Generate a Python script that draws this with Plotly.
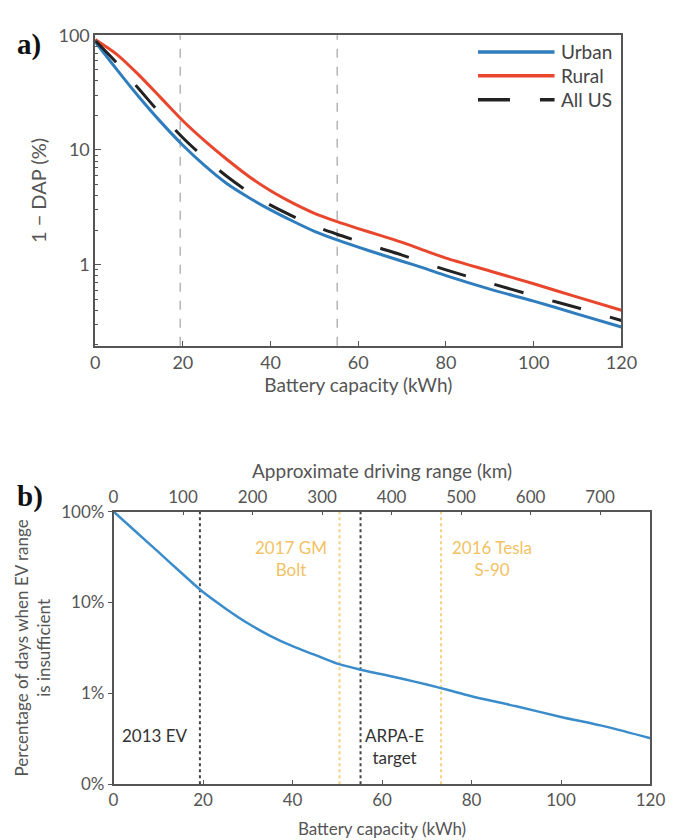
import plotly.graph_objects as go

# ---------------- data ----------------
cap_a = [0, 5, 10, 15, 20, 25, 30, 35, 40, 45, 50, 55, 60, 65, 70, 75, 80, 90, 100, 110, 120]
urban = [88, 50, 29, 17.5, 11, 7.3, 5.1, 3.85, 3.0, 2.4, 1.95, 1.65, 1.42, 1.23, 1.07, 0.93, 0.80, 0.61, 0.48, 0.37, 0.285]
rural = [92, 68, 45, 28.5, 18, 12, 8.3, 5.9, 4.4, 3.45, 2.8, 2.38, 2.06, 1.8, 1.56, 1.33, 1.14, 0.88, 0.68, 0.52, 0.40]
all_us = [90, 57, 34, 20.5, 12.8, 8.5, 5.9, 4.3, 3.3, 2.65, 2.17, 1.85, 1.6, 1.39, 1.21, 1.04, 0.9, 0.69, 0.535, 0.42, 0.325]
ref_lines_a = [19.4, 55.2]

cap_b = [0, 5, 10, 15, 20, 25, 30, 35, 40, 45, 50, 55, 60, 65, 70, 75, 80, 90, 100, 110, 120]
pct_b = [100, 60, 36, 21.5, 13, 8.6, 5.9, 4.3, 3.3, 2.65, 2.12, 1.83, 1.62, 1.43, 1.25, 1.08, 0.93, 0.72, 0.55, 0.43, 0.32]
black_markers = [19.3, 55.2]
yellow_markers = [50.5, 73.2]
km_per_kwh = 6.437
km_ticks = [0, 100, 200, 300, 400, 500, 600, 700]

legend_names = ["Urban", "Rural", "All US"]

FONT = "Lato"
AX = "#555555"
TXT = "#555555"
BLUE = "#2f7dbd"
RED = "#e8472d"
DARK = "#222222"
DASH = "30px,30px"

fig = go.Figure()

# panel a
fig.add_trace(go.Scatter(x=cap_a, y=urban, name=legend_names[0], mode="lines", line=dict(color=BLUE, width=3, shape="spline", smoothing=0.8), xaxis="x", yaxis="y"))
fig.add_trace(go.Scatter(x=cap_a, y=rural, name=legend_names[1], mode="lines", line=dict(color=RED, width=3, shape="spline", smoothing=0.8), xaxis="x", yaxis="y"))
fig.add_trace(go.Scatter(x=cap_a, y=all_us, name=legend_names[2], mode="lines", line=dict(color=DARK, width=3, dash=DASH, shape="spline", smoothing=0.8), xaxis="x", yaxis="y"))

# panel b
fig.add_trace(go.Scatter(x=cap_b, y=pct_b, mode="lines", line=dict(color="#3a8ccb", width=2.5, shape="spline", smoothing=0.8), xaxis="x2", yaxis="y2"))
# invisible trace to activate top axis
fig.add_trace(go.Scatter(x=[0, 120 * km_per_kwh], y=[None, None], mode="lines", hoverinfo="skip", xaxis="x3", yaxis="y2"))

shapes = []
for v in ref_lines_a:
    shapes.append(dict(type="line", xref="x", yref="y domain", x0=v, x1=v, y0=0, y1=1, line=dict(color="#b5b5b5", width=1.5, dash="dash"), layer="below"))
for v in black_markers:
    shapes.append(dict(type="line", xref="x2", yref="y2 domain", x0=v, x1=v, y0=0, y1=1, line=dict(color="#444444", width=2, dash="dot"), layer="below"))
for v in yellow_markers:
    shapes.append(dict(type="line", xref="x2", yref="y2 domain", x0=v, x1=v, y0=0, y1=1, line=dict(color="#f5d283", width=2, dash="dot"), layer="below"))

# manual legend (long line samples as in the original)
leg_x0, leg_x1 = 488 / 682, 567 / 682
leg_y = [1 - 41 / 840, 1 - 65.5 / 840, 1 - 90 / 840]
leg_style = [dict(color=BLUE, width=3.5), dict(color=RED, width=3.5), dict(color=DARK, width=3.5, dash="32px,30px")]
for yy, st in zip(leg_y, leg_style):
    shapes.append(dict(type="line", xref="paper", yref="paper", x0=leg_x0, x1=leg_x1, y0=yy, y1=yy, line=st))

annotations = [
    dict(text="<b>a)</b>", xref="paper", yref="paper", x=0.015, y=1 - 33 / 840, xanchor="left", yanchor="middle", showarrow=False, font=dict(family="Liberation Serif", size=29, color="#111")),
    dict(text="<b>b)</b>", xref="paper", yref="paper", x=0.015, y=1 - 498 / 840, xanchor="left", yanchor="middle", showarrow=False, font=dict(family="Liberation Serif", size=29, color="#111")),
    dict(text="2013 EV", xref="x2", yref="paper", x=17.0, y=1 - 743 / 840, xanchor="right", yanchor="middle", showarrow=False, font=dict(family=FONT, size=17, color="#333")),
    dict(text="ARPA-E<br>target", xref="x2", yref="paper", x=62.8, y=1 - 754 / 840, xanchor="center", yanchor="middle", showarrow=False, font=dict(family=FONT, size=17, color="#333")),
    dict(text="2017 GM<br>Bolt", xref="x2", yref="paper", x=39.6, y=1 - 561 / 840, xanchor="center", yanchor="middle", showarrow=False, font=dict(family=FONT, size=17, color="#f2c264")),
    dict(text="2016 Tesla<br>S-90", xref="x2", yref="paper", x=84.5, y=1 - 561 / 840, xanchor="center", yanchor="middle", showarrow=False, font=dict(family=FONT, size=17, color="#f2c264")),
]
for yy, name in zip(leg_y, legend_names):
    annotations.append(dict(text=name, xref="paper", yref="paper", x=572 / 682, y=yy, xanchor="left", yanchor="middle", showarrow=False, font=dict(family=FONT, size=19, color="#444")))

minor_a = [v * m for m in (0.1, 1, 10) for v in range(2, 10)]

def axis_base(size):
    return dict(showline=True, linecolor=AX, linewidth=1.5, showgrid=False, zeroline=False,
                tickfont=dict(family=FONT, size=size, color=TXT), tickcolor=AX)

fig.update_layout(
    width=682, height=840,
    margin=dict(l=0, r=0, t=0, b=0),
    paper_bgcolor="white", plot_bgcolor="white",
    font=dict(family=FONT, color=TXT),
    shapes=shapes, annotations=annotations,
    showlegend=False,
    xaxis=dict(**axis_base(18), domain=[93 / 682, 636 / 682], anchor="y", range=[0, 120], tickvals=[0, 20, 40, 60, 80, 100, 120],
               ticks="inside", ticklen=5, mirror=True,
               title=dict(text="Battery capacity (kWh)", font=dict(family=FONT, size=19, color=TXT), standoff=5)),
    yaxis=dict(**axis_base(18), domain=[1 - 342.7 / 840, 1 - 24 / 840], anchor="x", type="log", range=[-0.708, 2],
               tickvals=[1, 10, 100], ticktext=["1", "10", "100"], ticks="inside", ticklen=6, mirror=True,
               minor=dict(tickvals=minor_a, ticks="inside", ticklen=3, tickcolor=AX),
               title=dict(text="1 − DAP (%)", font=dict(family=FONT, size=20, color=TXT), standoff=6)),
    xaxis2=dict(**axis_base(17), domain=[112 / 682, 666 / 682], anchor="y2", range=[0, 120], tickvals=[0, 20, 40, 60, 80, 100, 120],
                ticks="inside", ticklen=4, mirror=True,
                title=dict(text="Battery capacity (kWh)", font=dict(family=FONT, size=17, color=TXT), standoff=14)),
    xaxis3=dict(**axis_base(17), overlaying="x2", side="top", anchor="y2", range=[0, 120 * km_per_kwh], tickvals=km_ticks,
                ticks="inside", ticklen=4,
                title=dict(text="Approximate driving range (km)", font=dict(family=FONT, size=19, color=TXT), standoff=2)),
    yaxis2=dict(**axis_base(17), domain=[1 - 793 / 840, 1 - 513 / 840], anchor="x2", type="log", range=[-1, 2],
                tickvals=[0.1, 1, 10, 100], ticktext=["0%", "1%", "10%", "100%"], ticks="outside", ticklen=4, mirror=True,
                title=dict(text="Percentage of days when EV range<br>is insufficient", font=dict(family=FONT, size=17, color=TXT), standoff=6)),
)

fig.write_html("out.html")
